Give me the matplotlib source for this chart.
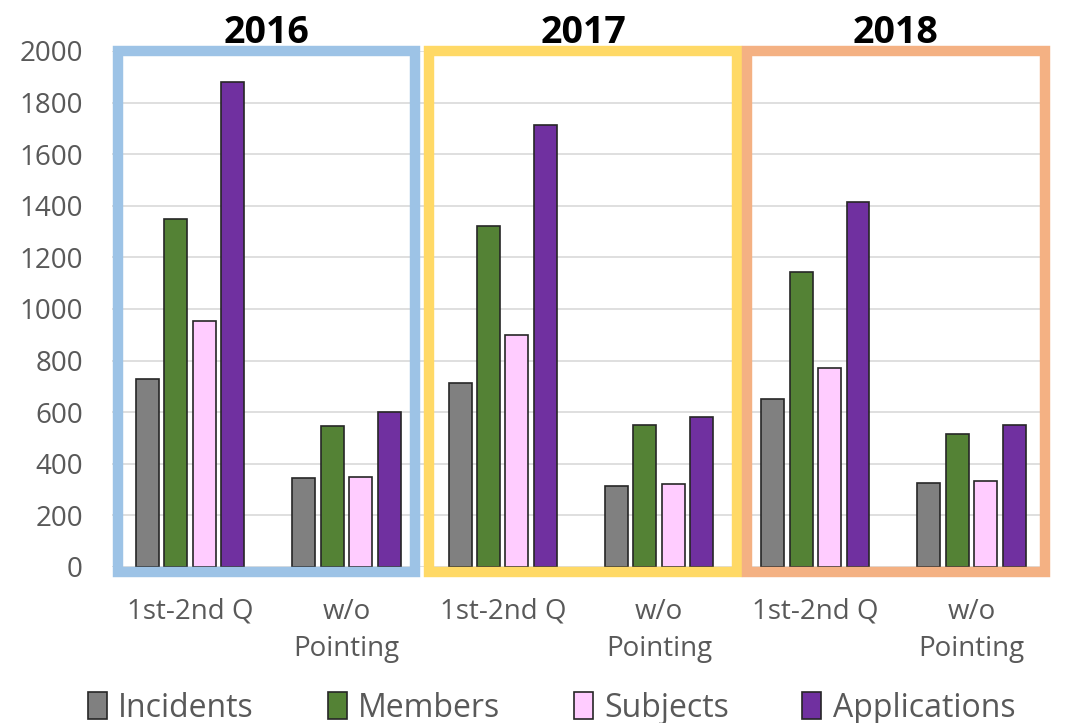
import numpy as np
import matplotlib.pyplot as plt
from matplotlib.patches import Rectangle

categories = ["1st-2nd Q", "w/o\nPointing", "1st-2nd Q", "w/o\nPointing", "1st-2nd Q", "w/o\nPointing"]
years = ["2016", "2017", "2018"]

incidents = [730, 345, 715, 315, 650, 325]
members = [1350, 545, 1320, 550, 1145, 515]
subjects = [955, 350, 900, 320, 770, 335]
applications = [1880, 600, 1715, 580, 1415, 550]

series = [
    ("Incidents", incidents, "#808080"),
    ("Members", members, "#548235"),
    ("Subjects", subjects, "#FFCCFF"),
    ("Applications", applications, "#7030A0"),
]
box_colors = ["#9DC3E6", "#FFD966", "#F4B183"]

plt.rcParams['font.family'] = ['Open Sans', 'DejaVu Sans']

fig = plt.figure(figsize=(10.69, 7.23), dpi=100)
ax = fig.add_axes([0.1048, 0.2158, 0.8772, 0.7137])

x = np.arange(len(categories))
width = 0.147
step = 0.182
for i, (name, vals, color) in enumerate(series):
    ax.bar(x + (i - 1.5) * step, vals, width, color=color, edgecolor="#262626",
           linewidth=1.2, label=name, zorder=3)

ax.set_xlim(-0.5, len(categories) - 0.5)
ax.set_ylim(0, 2000)
ax.set_yticks(range(0, 2001, 200))
ax.yaxis.grid(True, color="#d9d9d9", linewidth=1.2, zorder=0)
ax.set_axisbelow(True)
for s in ax.spines.values():
    s.set_visible(False)
ax.tick_params(length=0, labelsize=20, labelcolor="#595959")
ax.tick_params(axis='y', pad=21)
ax.tick_params(axis='x', pad=22)
ax.set_xticks(x)
ax.set_xticklabels(categories, linespacing=1.45)

# year boxes (in data x, drawn around each pair of groups)
box_edges = [(-0.46, 1.44), (1.53, 3.5), (3.56, 5.47)]
for (x0, x1), c, yr in zip(box_edges, box_colors, years):
    r = Rectangle((x0, -18), x1 - x0, 2018, fill=False, edgecolor=c,
                  linewidth=7.5, zorder=4, clip_on=False)
    ax.add_patch(r)
    ax.text((x0 + x1) / 2, 2032, yr, ha="center", va="baseline", fontsize=27,
            fontweight="bold", color="black")

leg = fig.legend(loc="lower center", bbox_to_anchor=(0.516, -0.042), ncol=4,
                 frameon=False, fontsize=23, handlelength=0.6, handleheight=0.9,
                 handletextpad=0.35, columnspacing=2.3)
for t in leg.get_texts():
    t.set_color("#595959")

fig.savefig("out.png", dpi=100)
